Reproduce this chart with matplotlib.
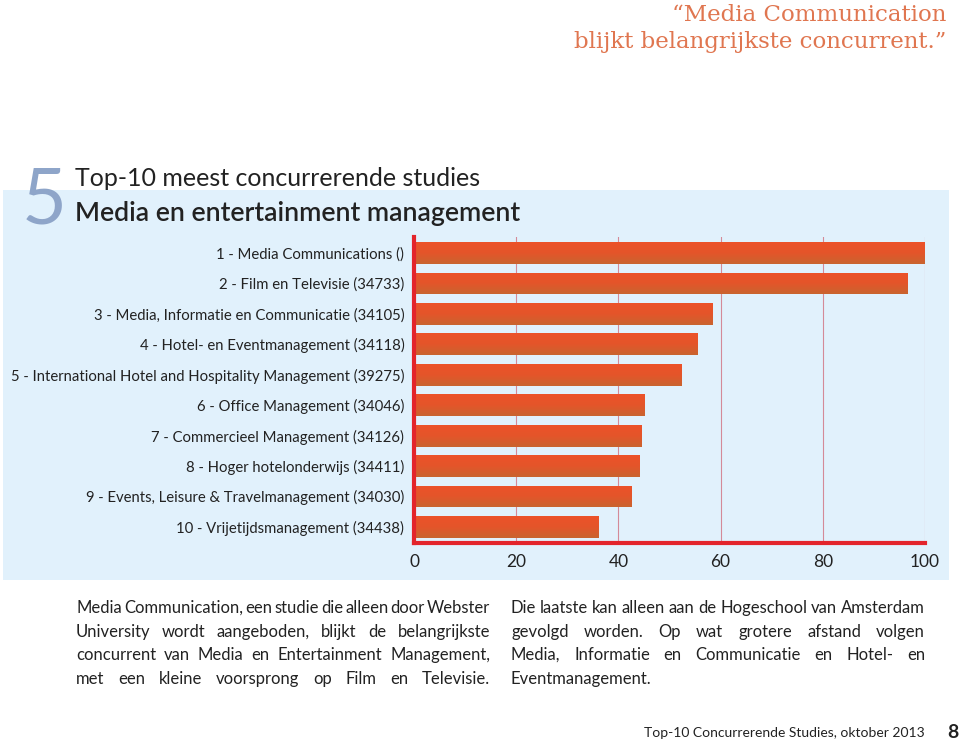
import matplotlib
matplotlib.use("Agg")
import matplotlib.pyplot as plt
import numpy as np
from matplotlib.patches import Rectangle
from matplotlib.colors import LinearSegmentedColormap

# ---------------- data ----------------
categories = [
    "1 - Media Communications ()",
    "2 - Film en Televisie (34733)",
    "3 - Media, Informatie en Communicatie (34105)",
    "4 - Hotel- en Eventmanagement (34118)",
    "5 - International Hotel and Hospitality Management (39275)",
    "6 - Office Management (34046)",
    "7 - Commercieel Management (34126)",
    "8 - Hoger hotelonderwijs (34411)",
    "9 - Events, Leisure & Travelmanagement (34030)",
    "10 - Vrijetijdsmanagement (34438)",
]
values = [100, 96.5, 58.5, 55.5, 52.3, 45.2, 44.5, 44.2, 42.6, 36.2]
xticks = [0, 20, 40, 60, 80, 100]

title_line1 = "Top-10 meest concurrerende studies"
title_line2 = "Media en entertainment management"
chapter_number = "5"
quote_lines = ["\u201cMedia Communication", "blijkt belangrijkste concurrent.\u201d"]
left_par = [
    "Media Communication, een studie die alleen door Webster",
    "University wordt aangeboden, blijkt de belangrijkste",
    "concurrent van Media en Entertainment Management,",
    "met een kleine voorsprong op Film en Televisie.",
]
right_par = [
    "Die laatste kan alleen aan de Hogeschool van Amsterdam",
    "gevolgd worden. Op wat grotere afstand volgen",
    "Media, Informatie en Communicatie en Hotel- en",
    "Eventmanagement.",
]
footer_text = "Top-10 Concurrerende Studies, oktober 2013"
page_number = "8"

# ---------------- figure ----------------
W, H = 960, 742
fig = plt.figure(figsize=(W / 100, H / 100), dpi=100)
fig.patch.set_facecolor("white")
FONT = "Lato"
TXT = "#222222"

def fx(px):
    return px / W

def fy(py):
    return 1 - py / H

# light blue panel
fig.patches.append(Rectangle((fx(3), fy(580)), fx(949) - fx(3), fy(190) - fy(580),
                             transform=fig.transFigure, facecolor="#E1F1FC",
                             edgecolor="none", zorder=-5))

ax = fig.add_axes([fx(414), fy(543), fx(925) - fx(414), fy(237) - fy(543)])
ax.set_facecolor("none")
ax.set_zorder(2)

y = np.arange(len(categories))
bar_h = 0.72
bars = ax.barh(y, values, height=bar_h, color="#E2562B", zorder=3)

# vertical gradient on bars
cmap = LinearSegmentedColormap.from_list("g", ["#EC5229", "#E4552A", "#C9642F"])
grad = np.linspace(0, 1, 64).reshape(-1, 1)
for b in bars:
    x0, y0 = b.get_x(), b.get_y()
    w, h = b.get_width(), b.get_height()
    im = ax.imshow(grad, cmap=cmap, extent=[x0, x0 + w, y0 + h, y0],
                   aspect="auto", zorder=4, origin="upper")
    im.set_clip_path(b)

ax.set_xlim(0, 100)
ax.set_ylim(len(categories) - 1 + 0.53, -0.53)
ax.set_xticks(xticks)
ax.set_xticklabels([str(t) for t in xticks], fontsize=12.5, family=FONT, color=TXT)
ax.set_yticks(y)
ax.set_yticklabels(categories, fontsize=10.7, family=FONT, color=TXT)
ax.tick_params(axis="both", length=0)
ax.tick_params(axis="x", pad=8)
ax.tick_params(axis="y", pad=7)

for t in xticks[1:]:
    ax.axvline(t, color="#D48A98", lw=0.8, zorder=1)

for s in ["top", "right"]:
    ax.spines[s].set_visible(False)
for s in ["left", "bottom"]:
    ax.spines[s].set_color("#E3242B")
    ax.spines[s].set_linewidth(3)
    ax.spines[s].set_zorder(5)

# ---------------- titles ----------------
fig.text(fx(22), fy(223), chapter_number, fontsize=56, family=FONT, weight="normal",
         color="#8EA5C9", va="baseline", ha="left")
fig.text(fx(75), fy(186), title_line1, fontsize=18, family=FONT, weight="normal",
         color=TXT, va="baseline", ha="left")
fig.text(fx(75), fy(221), title_line2, fontsize=19.3, family=FONT, weight="semibold",
         color=TXT, va="baseline", ha="left")

# quote
fig.text(fx(946), fy(21), quote_lines[0], fontsize=16.5, family="DejaVu Serif",
         color="#E07650", va="baseline", ha="right")
fig.text(fx(946), fy(48), quote_lines[1], fontsize=16.5, family="DejaVu Serif",
         color="#E07650", va="baseline", ha="right")

# footer
fig.text(fx(925), fy(737), footer_text, fontsize=10, family=FONT, color=TXT,
         va="baseline", ha="right")
fig.text(fx(958), fy(738), page_number, fontsize=14, family=FONT, weight="bold",
         color=TXT, va="baseline", ha="right")

# ---------------- justified paragraphs ----------------
renderer = fig.canvas.get_renderer()

def justified(lines, x_left, x_right, baselines, justify_last, size=12):
    for i, (line, yb) in enumerate(zip(lines, baselines)):
        words = line.split(" ")
        last = (i == len(lines) - 1)
        if last and not justify_last:
            fig.text(fx(x_left), fy(yb), line, fontsize=size, family=FONT,
                     color=TXT, va="baseline", ha="left")
            continue
        objs = [fig.text(0, 0, w_, fontsize=size, family=FONT, color=TXT,
                         va="baseline", ha="left") for w_ in words]
        widths = [o.get_window_extent(renderer).width for o in objs]
        gap = (x_right - x_left - sum(widths)) / max(len(words) - 1, 1)
        xpos = x_left
        for o, wdt in zip(objs, widths):
            o.set_position((fx(xpos), fy(yb)))
            xpos += wdt + gap

justified(left_par, 76, 490, [613, 637, 660, 684], True)
justified(right_par, 511, 925, [613, 637, 660, 684], False)

fig.savefig("out.png", dpi=100, facecolor="white")
